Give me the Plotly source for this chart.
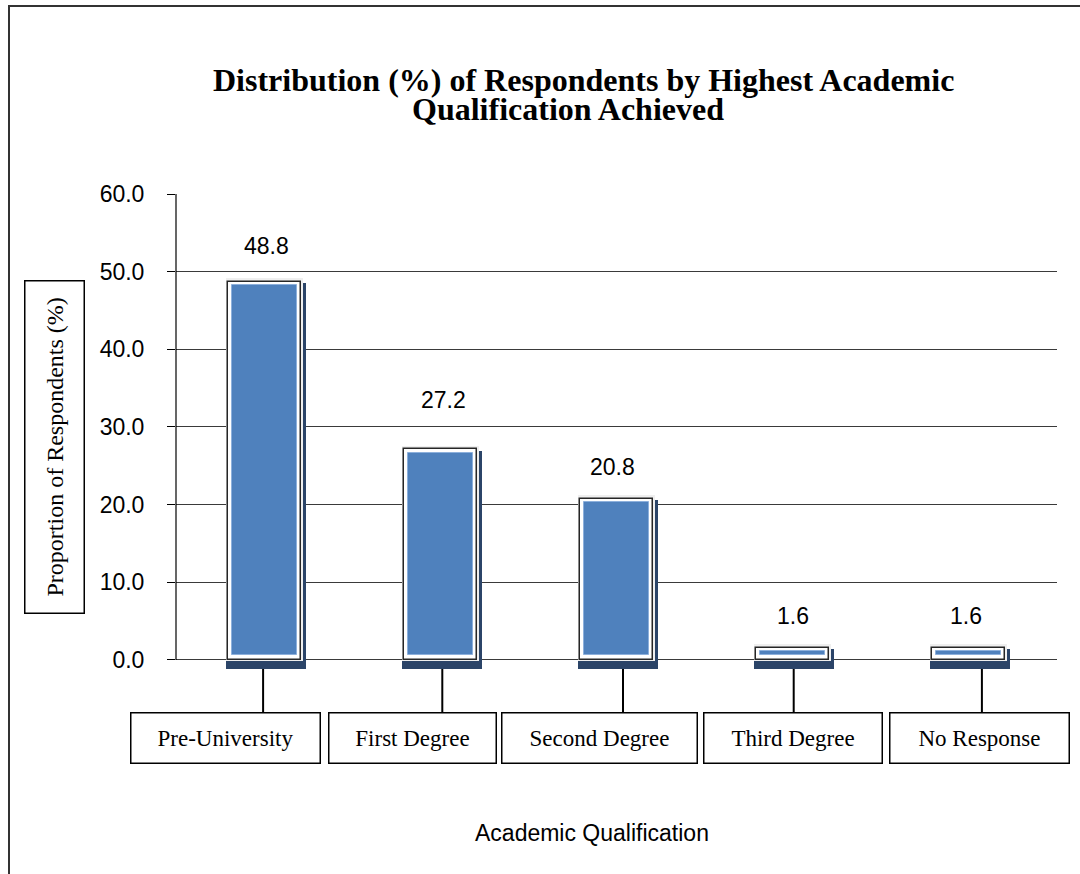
import plotly.graph_objects as go

# Survey data
categories = ["Pre-University", "First Degree", "Second Degree", "Third Degree", "No Response"]
percentages = [48.8, 27.2, 20.8, 1.6, 1.6]
y_ticks = [0, 10, 20, 30, 40, 50, 60]

title_lines = ["Distribution (%) of Respondents by Highest Academic",
               "Qualification Achieved"]
y_title = "Proportion of Respondents (%)"
x_title = "Academic Qualification"

# Layout geometry (pixels)
W, H = 1080, 874
L, R, T, B = 176, 23, 194, 204
PW, PH = W - L - R, H - T - B
Y_MIN, Y_MAX = -1.3, 60

def px_x(p):
    return (p - L) / PW

def px_y(p):
    return (H - B - p) / PH

# Per-category label placement tweaks (pixels)
value_dy = [35, 49, 31, 31, 31]
value_dx = [2, 3, -4, 0, -3]
box_dx = [-39, -28, -17.5, 0, 11]
box_w = [188, 166, 194, 177, 178]
link_dx = [-1, 2, 6.5, 1, 13]

SERIF = "Liberation Serif, Times New Roman, serif"
SANS = "Liberation Sans, Arial, sans-serif"

fig = go.Figure()

# drop shadow behind each bar
sh_base = -1.15
fig.add_trace(go.Bar(
    x=categories, y=[v - 0.25 - sh_base for v in percentages], base=sh_base,
    width=0.454, offset=-0.2185, marker=dict(color="#2b4468", line=dict(width=0)),
    hoverinfo="skip", showlegend=False))

# soft light halo
gl_base = -0.13
fig.add_trace(go.Bar(
    x=categories, y=[v + 0.4 - gl_base for v in percentages], base=gl_base,
    width=0.437, marker=dict(color="#efefef", line=dict(width=0)),
    hoverinfo="skip", showlegend=False))

# thin dark frame with white bevel
fig.add_trace(go.Bar(
    x=categories, y=[v - 0.1 for v in percentages], base=0,
    width=0.414, marker=dict(color="#ffffff", line=dict(color="#262626", width=1.5)),
    hoverinfo="skip", showlegend=False))

# blue face
bl_base = 0.64
fig.add_trace(go.Bar(
    x=categories, y=[v - 0.5 - bl_base for v in percentages], base=bl_base,
    width=0.369, marker=dict(color="#4f81bd", line=dict(color="#8db0dc", width=1)),
    hoverinfo="skip", showlegend=False))

annotations = []

# value labels
for i, (c, v) in enumerate(zip(categories, percentages)):
    annotations.append(dict(
        x=c, y=v, xref="x", yref="y", text=f"{v:.1f}", showarrow=False,
        yshift=value_dy[i], xshift=value_dx[i], xanchor="center", yanchor="middle",
        font=dict(family=SANS, size=23, color="#000000")))

# category boxes
pad = 9
for i, c in enumerate(categories):
    annotations.append(dict(
        x=c, y=px_y(737.5), xref="x", yref="paper", text=c, showarrow=False,
        xshift=box_dx[i], xanchor="center", yanchor="middle",
        width=box_w[i] - 2 * pad, height=49 - 2 * pad,
        borderpad=pad, bordercolor="#000000", borderwidth=1.5, bgcolor="#ffffff",
        font=dict(family=SERIF, size=23, color="#000000")))

# title (two lines)
annotations.append(dict(
    x=px_x(583.5), y=px_y(80), xref="paper", yref="paper", text=f"<b>{title_lines[0]}</b>",
    showarrow=False, xanchor="center", yanchor="middle",
    font=dict(family=SERIF, size=32, color="#000000")))
annotations.append(dict(
    x=px_x(568), y=px_y(109), xref="paper", yref="paper", text=f"<b>{title_lines[1]}</b>",
    showarrow=False, xanchor="center", yanchor="middle",
    font=dict(family=SERIF, size=32, color="#000000")))

# y-axis title in a box
annotations.append(dict(
    x=px_x(54.5), y=px_y(446.5), xref="paper", yref="paper", text=y_title,
    textangle=-90, showarrow=False, xanchor="center", yanchor="middle",
    borderpad=16, bordercolor="#000000",
    borderwidth=1.5, font=dict(family=SERIF, size=24, color="#000000")))

# x-axis title
annotations.append(dict(
    x=px_x(592), y=px_y(833), xref="paper", yref="paper", text=x_title,
    showarrow=False, xanchor="center", yanchor="middle",
    font=dict(family=SANS, size=23, color="#000000")))

shapes = []
# connectors from bars to category boxes
for i in range(len(categories)):
    shapes.append(dict(
        type="line", xref="x", yref="paper", xsizemode="pixel", xanchor=i,
        x0=link_dx[i], x1=link_dx[i], y0=px_y(669), y1=px_y(713),
        line=dict(color="#000000", width=2)))

# value axis line
shapes.append(dict(type="line", xref="paper", yref="y", x0=0, x1=0, y0=0, y1=60,
                   line=dict(color="#000000", width=1.2)))

# outer chart frame
shapes.append(dict(type="rect", xref="paper", yref="paper",
                   x0=px_x(9), y0=px_y(H + 20), x1=px_x(W + 20), y1=px_y(6),
                   line=dict(color="#333333", width=2), fillcolor="rgba(0,0,0,0)",
                   layer="below"))

fig.update_layout(
    width=W, height=H,
    margin=dict(l=L, r=R, t=T, b=B, pad=0),
    paper_bgcolor="#ffffff", plot_bgcolor="#ffffff",
    barmode="overlay", bargap=0,
    showlegend=False,
    annotations=annotations, shapes=shapes,
    xaxis=dict(type="category", range=[-0.5, len(categories) - 0.5],
               showticklabels=False, ticks="", showgrid=False, showline=False,
               zeroline=False, fixedrange=True),
    yaxis=dict(range=[Y_MIN, Y_MAX], tickvals=y_ticks, tickformat=".1f",
               ticks="outside", ticklen=8, tickcolor="#000000", tickwidth=1.2,
               ticklabelstandoff=18,
               tickfont=dict(family=SANS, size=23, color="#000000"),
               showgrid=True, gridcolor="#3a3a3a", gridwidth=1,
               zeroline=True, zerolinecolor="#3a3a3a", zerolinewidth=1,
               showline=False, fixedrange=True),
)

fig.write_html("out.html")
